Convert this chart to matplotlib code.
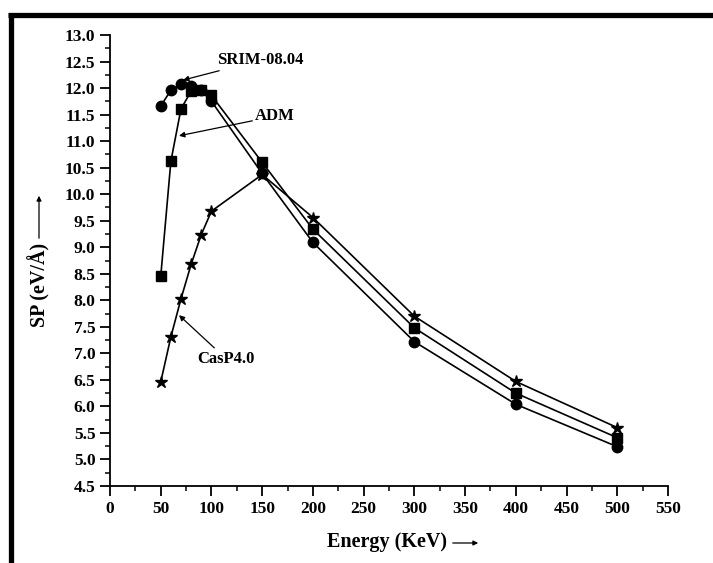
import matplotlib.pyplot as plt
from matplotlib.lines import Line2D
from matplotlib.patches import FancyArrowPatch
from matplotlib.ticker import MultipleLocator, FormatStrFormatter

plt.rcParams["font.family"] = ["Liberation Serif", "DejaVu Serif"]
plt.rcParams["font.weight"] = "bold"

energy = [50, 60, 70, 80, 90, 100, 150, 200, 300, 400, 500]
srim = [11.66, 11.96, 12.07, 12.04, 11.96, 11.75, 10.39, 9.09, 7.22, 6.04, 5.24]
adm = [8.45, 10.62, 11.61, 11.94, 11.97, 11.86, 10.60, 9.34, 7.48, 6.25, 5.41]
casp = [6.46, 7.31, 8.03, 8.68, 9.24, 9.68, 10.37, 9.56, 7.70, 6.47, 5.60]

fig = plt.figure(figsize=(7.13, 5.63), dpi=100)
ax = fig.add_axes([110 / 713, 1 - 486 / 563, 558 / 713, 451 / 563])

kw = dict(color="black", lw=1.2, clip_on=False)
ax.plot(energy, srim, marker="o", ms=7.5, **kw)
ax.plot(energy, adm, marker="s", ms=6.5, **kw)
ax.plot(energy, casp, marker="*", ms=9, **kw)

ax.set_xlim(0, 550)
ax.set_ylim(4.5, 13.0)
ax.xaxis.set_major_locator(MultipleLocator(50))
ax.xaxis.set_minor_locator(MultipleLocator(25))
ax.yaxis.set_major_locator(MultipleLocator(0.5))
ax.yaxis.set_minor_locator(MultipleLocator(0.25))
ax.yaxis.set_major_formatter(FormatStrFormatter("%.1f"))
ax.spines["top"].set_visible(False)
ax.spines["right"].set_visible(False)
for s in ("left", "bottom"):
    ax.spines[s].set_linewidth(1.3)
ax.tick_params(which="major", length=7, width=1.3, labelsize=12.5, pad=3.5, direction="out")
ax.tick_params(which="minor", length=3.5, width=1.1, direction="out")
for lab in ax.get_xticklabels() + ax.get_yticklabels():
    lab.set_fontweight("bold")

arrow = dict(arrowstyle="-|>", color="black", lw=0.9, mutation_scale=8, shrinkA=0, shrinkB=0)
ax.annotate("SRIM-08.04", xy=(72, 12.15), xytext=(106, 12.53), fontsize=12,
            fontweight="bold", va="center", ha="left", arrowprops=arrow)
ax.annotate("ADM", xy=(68, 11.1), xytext=(143, 11.47), fontsize=12,
            fontweight="bold", va="center", ha="left", arrowprops=arrow)
ax.annotate("CasP4.0", xy=(68, 7.72), xytext=(86, 6.9), fontsize=12,
            fontweight="bold", va="center", ha="left", arrowprops=arrow)

# axis labels with their arrows
fig.text(39 / 713, 1 - 285 / 563, "SP (eV/Å)", rotation=90, fontsize=14.5,
         fontweight="bold", ha="center", va="center")
fig.text(387 / 713, 1 - 542 / 563, "Energy (KeV)", fontsize=14.5,
         fontweight="bold", ha="center", va="center")
fig.patches.append(FancyArrowPatch(
    (39 / 713, 1 - 241 / 563), (39 / 713, 1 - 193 / 563), transform=fig.transFigure,
    arrowstyle="-|>", mutation_scale=7, lw=0.9, color="black"))
fig.patches.append(FancyArrowPatch(
    (450 / 713, 1 - 543 / 563), (481 / 713, 1 - 543 / 563), transform=fig.transFigure,
    arrowstyle="-|>", mutation_scale=7, lw=0.9, color="black"))

# frame: thick top and left edges
fig.add_artist(Line2D([8 / 713, 1], [1 - 15 / 563, 1 - 15 / 563], color="black", lw=3.8,
                      solid_capstyle="butt", transform=fig.transFigure))
fig.add_artist(Line2D([10.5 / 713, 10.5 / 713], [0, 1 - 12.5 / 563], color="black", lw=3.8,
                      solid_capstyle="butt", transform=fig.transFigure))

fig.savefig("out.png", dpi=100)
